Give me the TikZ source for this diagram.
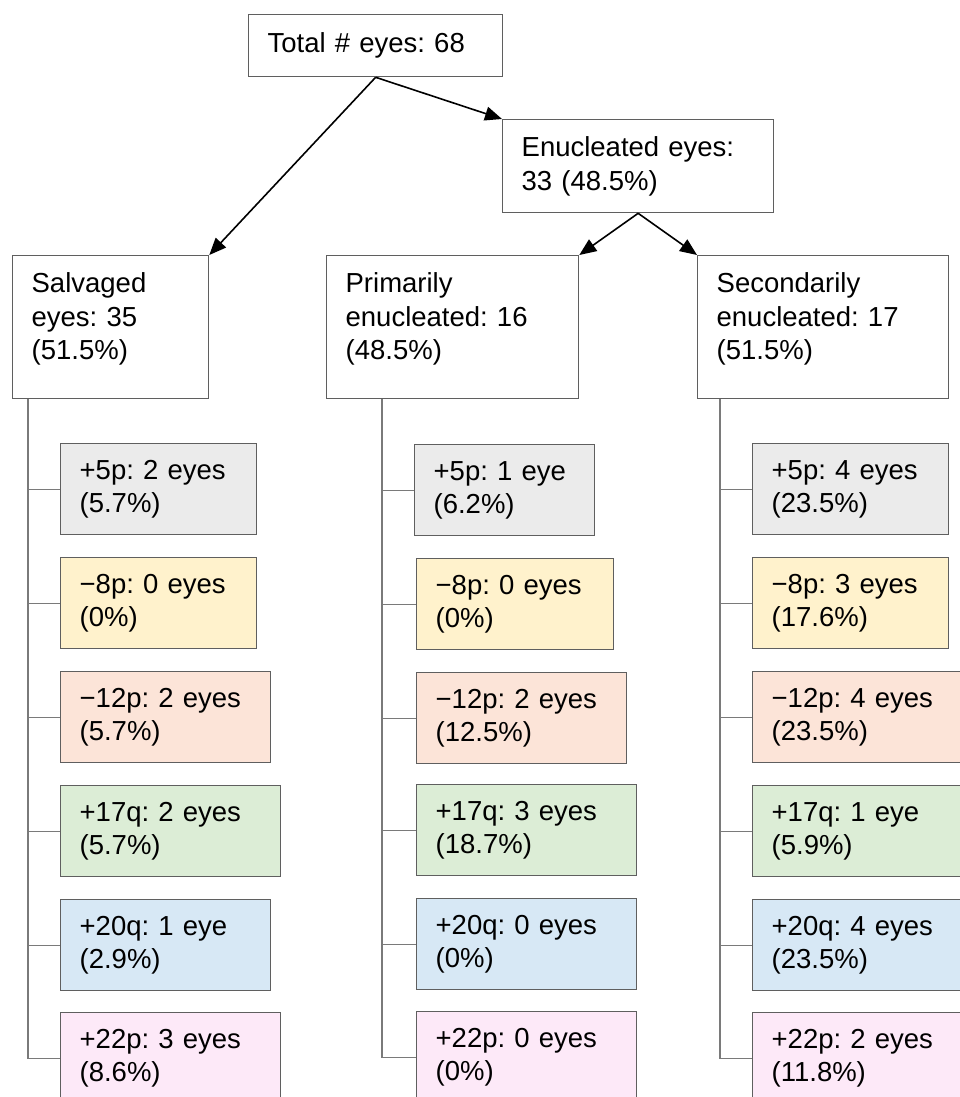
\documentclass[tikz,border=0pt]{standalone}
\usepackage{fontspec}
\setmainfont{Liberation Sans}
\usetikzlibrary{arrows.meta,calc}
\definecolor{boxline}{HTML}{5F5F5F}
\definecolor{treeline}{HTML}{7A7A7A}
\definecolor{cgray}{HTML}{EBEBEB}
\definecolor{cyellow}{HTML}{FFF2CC}
\definecolor{csalmon}{HTML}{FCE4D8}
\definecolor{cgreen}{HTML}{DCEDD6}
\definecolor{cblue}{HTML}{D7E8F5}
\definecolor{cpink}{HTML}{FDE9F8}
\newcommand{\lowpad}{\rule[-22pt]{0pt}{1pt}}
\frenchspacing
\begin{document}
\begin{tikzpicture}[x=1pt,y=-1pt,
  font=\fontsize{27.5}{33.5}\selectfont\frenchspacing,
  wbox/.style={draw=boxline,line width=1.3pt,fill=white,anchor=north west,
    inner xsep=19pt,inner ysep=0pt,align=left},
  cbox/.style={wbox,minimum height=91pt},
  arr/.style={-{Triangle[length=17pt,width=14pt]},line width=1.6pt,draw=black},
  tree/.style={draw=treeline,line width=1.3pt}]
\useasboundingbox (0,0) rectangle (960,1097);
\clip (0,0) rectangle (960,1097);

% top level
\node[wbox,minimum height=62pt,text width=216pt] (total) at (248,14) {Total \# eyes: 68};
\node[wbox,minimum height=93pt,text width=233pt] (enuc) at (502,119) {Enucleated eyes:\\33 (48.5\%)};
\node[wbox,minimum height=143pt,text width=158pt] (sal) at (12,255) {Salvaged\\eyes: 35\\(51.5\%)\lowpad};
\node[wbox,minimum height=143pt,text width=214pt] (prim) at (326,255) {Primarily\\enucleated: 16\\(48.5\%)\lowpad};
\node[wbox,minimum height=143pt,text width=213pt] (sec) at (697,255) {Secondarily\\enucleated: 17\\(51.5\%)\lowpad};

\draw[arr] (total.south) -- (enuc.north west);
\draw[arr] (total.south) -- (sal.north east);
\draw[arr] (enuc.south) -- (prim.north east);
\draw[arr] (enuc.south) -- (sec.north west);

% left column
\node[cbox,fill=cgray,text width=158pt] (L1) at (60,443) {+5p: 2 eyes\\(5.7\%)};
\node[cbox,fill=cyellow,text width=158pt] (L2) at (60,557) {−8p: 0 eyes\\(0\%)};
\node[cbox,fill=csalmon,text width=172pt] (L3) at (60,671) {−12p: 2 eyes\\(5.7\%)};
\node[cbox,fill=cgreen,text width=182pt] (L4) at (60,785) {+17q: 2 eyes\\(5.7\%)};
\node[cbox,fill=cblue,text width=172pt] (L5) at (60,899) {+20q: 1 eye\\(2.9\%)};
\node[cbox,fill=cpink,text width=182pt] (L6) at (60,1012) {+22p: 3 eyes\\(8.6\%)};

% middle column
\node[cbox,fill=cgray,text width=142pt] (M1) at (414,444) {+5p: 1 eye\\(6.2\%)};
\node[cbox,fill=cyellow,text width=159pt] (M2) at (416,558) {−8p: 0 eyes\\(0\%)};
\node[cbox,fill=csalmon,text width=172pt] (M3) at (416,672) {−12p: 2 eyes\\(12.5\%)};
\node[cbox,fill=cgreen,text width=182pt] (M4) at (416,784) {+17q: 3 eyes\\(18.7\%)};
\node[cbox,fill=cblue,text width=182pt] (M5) at (416,898) {+20q: 0 eyes\\(0\%)};
\node[cbox,fill=cpink,text width=182pt] (M6) at (416,1011) {+22p: 0 eyes\\(0\%)};

% right column
\node[cbox,fill=cgray,text width=158pt] (R1) at (752,443) {+5p: 4 eyes\\(23.5\%)};
\node[cbox,fill=cyellow,text width=158pt] (R2) at (752,557) {−8p: 3 eyes\\(17.6\%)};
\node[cbox,fill=csalmon,text width=182pt] (R3) at (752,671) {−12p: 4 eyes\\(23.5\%)};
\node[cbox,fill=cgreen,text width=182pt] (R4) at (752,785) {+17q: 1 eye\\(5.9\%)};
\node[cbox,fill=cblue,text width=182pt] (R5) at (752,899) {+20q: 4 eyes\\(23.5\%)};
\node[cbox,fill=cpink,text width=182pt] (R6) at (752,1012) {+22p: 2 eyes\\(11.8\%)};

% tree connectors
\coordinate (tsal) at ($(sal.south west)+(16,0)$);
\coordinate (tprim) at ($(prim.south west)+(56,0)$);
\coordinate (tsec) at ($(sec.south west)+(23,0)$);
\foreach \k in {1,...,6} {
  \draw[tree] (tsal) |- (L\k.west);
  \draw[tree] (tprim) |- (M\k.west);
  \draw[tree] (tsec) |- (R\k.west);
}
\end{tikzpicture}
\end{document}
